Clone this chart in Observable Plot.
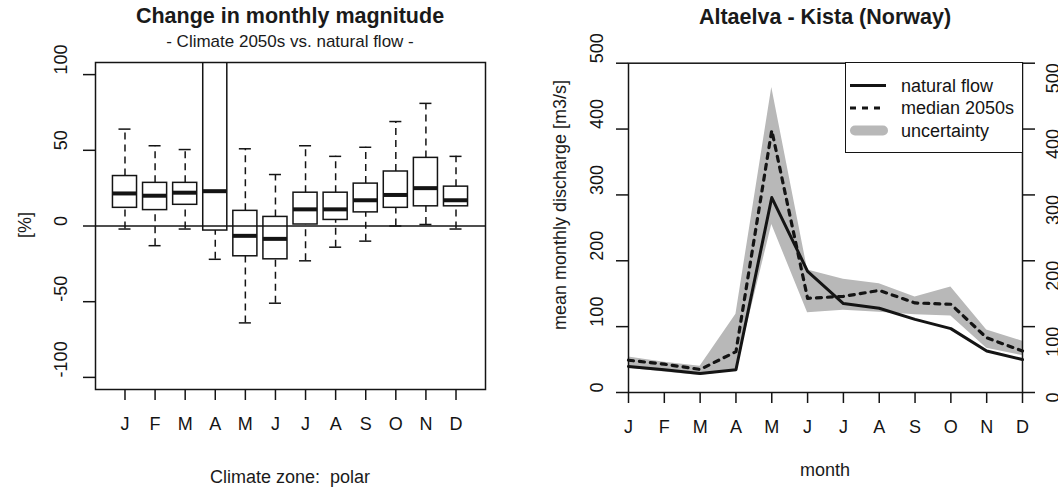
<!DOCTYPE html>
<html><head><meta charset="utf-8">
<script src="https://cdn.jsdelivr.net/npm/d3@7"></script>
<script src="https://cdn.jsdelivr.net/npm/@observablehq/plot@0.6"></script>
<style>
body{margin:0;background:#fff;}
#wrap{position:relative;width:1058px;height:488px;overflow:hidden;font-family:"Liberation Sans",Arial,sans-serif;color:#1a1a1a;background:#fff;}
.t{position:absolute;transform:translate(-50%,-50%);white-space:pre;line-height:1;}
.r{transform:translate(-50%,-50%) rotate(-90deg);}
.panel{position:absolute;top:0;width:529px;height:488px;}
</style></head><body><div id="wrap"></div>
<script>
// ---- data ----
const months = ["J","F","M","A","M","J","J","A","S","O","N","D"];
// left panel: change in monthly magnitude [%] (boxplot statistics)
const whiskerLow  = [-2, -13, -2, -22, -64, -51, -23, -14, -10, 0, 1, -2];
const quart1      = [12, 10.5, 14, -3, -20, -22, 1, 4, 9, 12, 13, 13];
const medians     = [21.5, 20, 22, 23, -6.5, -8.5, 11, 11, 17, 20.5, 25, 17];
const quart3      = [33, 28.5, 28.5, 130, 10, 6, 22, 22, 28, 36, 45, 26];
const whiskerHigh = [64, 53, 50.5, 200, 51, 34, 53, 46, 52, 69, 81, 46];
const yTicksLeft  = [-100, -50, 0, 50, 100];
// right panel: mean monthly discharge [m3/s]
const naturalFlow = [39.5, 34.5, 29, 34.5, 296, 184, 135, 128, 111, 97, 63, 50];
const median2050s = [49, 43, 35, 62, 398, 143, 146, 155, 136, 134, 83, 63];
const uncertLow   = [37, 31, 26, 33, 255, 121, 125, 122, 118, 116, 67, 56];
const uncertHigh  = [54, 46, 40, 119, 463, 186, 172, 165, 145, 160, 95, 78];
const yTicksRight = [0, 100, 200, 300, 400, 500];

const FONT = '"Liberation Sans", Arial, sans-serif';
const INK = "#141414";
const GRAY = "#b8b8b8";
const wrap = document.getElementById("wrap");

const boxes = months.map((m, i) => ({m: i + 1, lo: whiskerLow[i], q1: quart1[i], med: medians[i], q3: quart3[i], hi: whiskerHigh[i]}));
const series = months.map((m, i) => ({m: i + 1, nat: naturalFlow[i], med: median2050s[i], lo: uncertLow[i], hi: uncertHigh[i]}));
const monthIdx = months.map((m, i) => i + 1);

const left = Plot.plot({
  width: 529, height: 488,
  marginLeft: 95, marginRight: 44, marginTop: 62, marginBottom: 99,
  x: {domain: [0.02, 12.98]},
  y: {domain: [-108, 108]},
  style: {fontFamily: FONT, fontSize: "18px", color: INK, background: "transparent", overflow: "visible"},
  marks: [
    Plot.ruleY([0], {stroke: INK, strokeWidth: 1.5}),
    Plot.ruleX(boxes, {x: "m", y1: "lo", y2: "q1", stroke: INK, strokeWidth: 1.5, strokeDasharray: "7,5", clip: true}),
    Plot.ruleX(boxes, {x: "m", y1: "q3", y2: "hi", stroke: INK, strokeWidth: 1.5, strokeDasharray: "7,5", clip: true}),
    Plot.ruleY(boxes, {y: "lo", x1: d => d.m - 0.2, x2: d => d.m + 0.2, stroke: INK, strokeWidth: 1.5, clip: true}),
    Plot.ruleY(boxes, {y: "hi", x1: d => d.m - 0.2, x2: d => d.m + 0.2, stroke: INK, strokeWidth: 1.5, clip: true}),
    Plot.rect(boxes, {x1: d => d.m - 0.4, x2: d => d.m + 0.4, y1: "q1", y2: "q3", fill: "none", stroke: INK, strokeWidth: 1.5, clip: true}),
    Plot.ruleY(boxes, {y: "med", x1: d => d.m - 0.4, x2: d => d.m + 0.4, stroke: INK, strokeWidth: 4, clip: true}),
    Plot.frame({stroke: INK, strokeWidth: 1.5}),
    Plot.axisX(monthIdx, {tickFormat: i => months[i - 1], tickSize: 11, tickPadding: 17, strokeWidth: 1.5, fontSize: 18, label: null}),
    Plot.axisY(yTicksLeft, {tickSize: 12, tickFormat: () => "", strokeWidth: 1.5, label: null}),
    Plot.text(yTicksLeft, {y: d => d, text: d => String(d), frameAnchor: "left", dx: -34, rotate: -90, fontSize: 18, fill: INK})
  ]
});

const right = Plot.plot({
  width: 529, height: 488,
  marginLeft: 99, marginRight: 36, marginTop: 62.7, marginBottom: 96,
  x: {domain: [1, 12]},
  y: {domain: [0, 500]},
  style: {fontFamily: FONT, fontSize: "18px", color: INK, background: "transparent", overflow: "visible"},
  marks: [
    Plot.areaY(series, {x: "m", y1: "lo", y2: "hi", fill: GRAY}),
    Plot.line(series, {x: "m", y: "nat", stroke: INK, strokeWidth: 3}),
    Plot.line(series, {x: "m", y: "med", stroke: INK, strokeWidth: 3.2, strokeDasharray: "5,6"}),
    Plot.frame({stroke: INK, strokeWidth: 1.5}),
    Plot.axisX(monthIdx, {tickFormat: i => months[i - 1], tickSize: 11, tickPadding: 17, strokeWidth: 1.5, fontSize: 18, label: null}),
    Plot.axisY(yTicksRight, {anchor: "left", tickSize: 12, tickFormat: () => "", strokeWidth: 1.5, label: null}),
    Plot.axisY(yTicksRight, {anchor: "right", tickSize: 12, tickFormat: () => "", strokeWidth: 1.5, label: null}),
    Plot.text(yTicksRight, {y: d => d, text: d => String(d), frameAnchor: "left", dx: -31, rotate: -90, fontSize: 18, fill: INK}),
    Plot.text(yTicksRight, {y: d => d, text: d => String(d), frameAnchor: "right", dx: 31, rotate: -90, fontSize: 18, fill: INK})
  ]
});

function panel(svg, x) {
  const d = document.createElement("div");
  d.className = "panel";
  d.style.left = x + "px";
  d.appendChild(svg);
  wrap.appendChild(d);
}
panel(left, 0);
panel(right, 529);

function label(text, x, y, size, opts = {}) {
  const d = document.createElement("div");
  d.className = "t" + (opts.rot ? " r" : "");
  d.textContent = text;
  d.style.left = x + "px";
  d.style.top = y + "px";
  d.style.fontSize = size + "px";
  if (opts.bold) d.style.fontWeight = "bold";
  wrap.appendChild(d);
}
label("Change in monthly magnitude", 290, 17, 21.5, {bold: true});
label("- Climate 2050s vs. natural flow -", 290, 41, 17);
label("[%]", 25, 225, 18, {rot: true});
label("Climate zone:  polar", 290, 477, 18);
label("Altaelva - Kista (Norway)", 825, 18, 21.5, {bold: true});
label("mean monthly discharge [m3/s]", 560, 205, 18, {rot: true});
label("month", 825, 470, 18);

// legend
const legendItems = [
  {name: "natural flow", stroke: INK, width: 3, dash: null, cap: "butt"},
  {name: "median 2050s", stroke: INK, width: 3.2, dash: "6,6", cap: "butt"},
  {name: "uncertainty", stroke: GRAY, width: 10, dash: null, cap: "round"}
];
const lg = document.createElement("div");
lg.style.cssText = "position:absolute;left:845px;top:62px;width:178px;height:91px;border:1.5px solid " + INK + ";box-sizing:border-box;background:#fff;";
const ns = "http://www.w3.org/2000/svg";
const lsvg = document.createElementNS(ns, "svg");
lsvg.setAttribute("width", 175); lsvg.setAttribute("height", 88);
lsvg.style.display = "block";
legendItems.forEach((it, k) => {
  const yy = 22.5 + k * 22.5;
  const ln = document.createElementNS(ns, "line");
  ln.setAttribute("x1", it.cap === "round" ? 9 : 4); ln.setAttribute("x2", it.cap === "round" ? 37 : 40);
  ln.setAttribute("y1", yy); ln.setAttribute("y2", yy);
  ln.setAttribute("stroke", it.stroke); ln.setAttribute("stroke-width", it.width);
  ln.setAttribute("stroke-linecap", it.cap);
  if (it.dash) ln.setAttribute("stroke-dasharray", it.dash);
  lsvg.appendChild(ln);
  const tx = document.createElementNS(ns, "text");
  tx.setAttribute("x", 55); tx.setAttribute("y", yy);
  tx.setAttribute("dominant-baseline", "central");
  tx.setAttribute("font-family", FONT); tx.setAttribute("font-size", 18);
  tx.setAttribute("fill", INK);
  tx.textContent = it.name;
  lsvg.appendChild(tx);
});
lg.appendChild(lsvg);
wrap.appendChild(lg);
</script>
</body></html>
